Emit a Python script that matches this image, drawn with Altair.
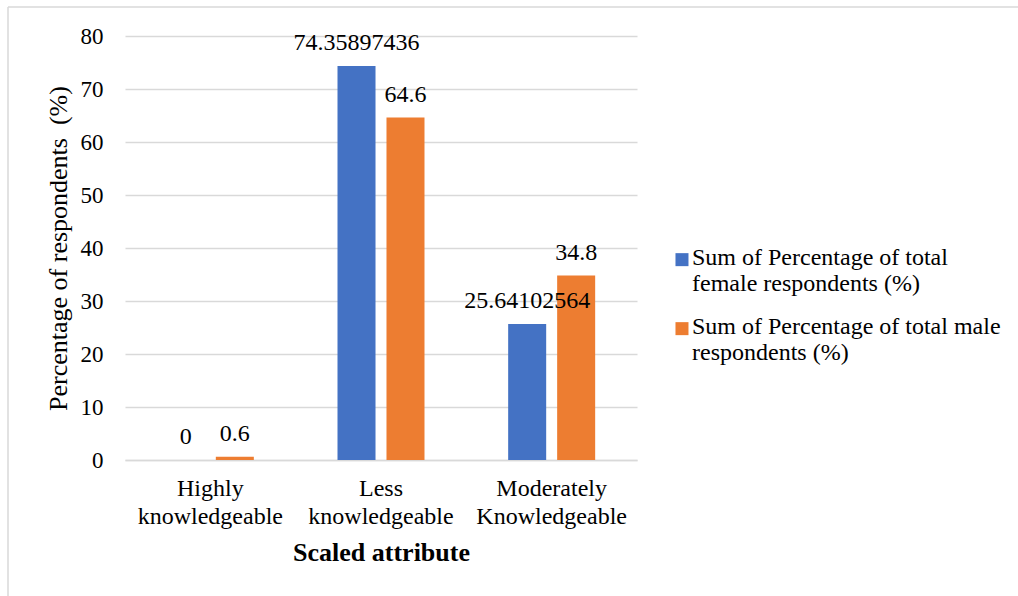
import json

import altair as alt
import pandas as pd

# Knowledge level of respondents, split by gender
categories = ["Highly knowledgeable", "Less knowledgeable", "Moderately Knowledgeable"]
female_pct = [0, 74.35897436, 25.64102564]
male_pct = [0.6, 64.6, 34.8]

series_names = [
    "Sum of Percentage of total female respondents (%)",
    "Sum of Percentage of total male respondents (%)",
]
legend_lines = [
    ["Sum of Percentage of total", "female respondents (%)"],
    ["Sum of Percentage of total male", "respondents (%)"],
]
series_colors = ["#4472C4", "#ED7D31"]
y_ticks = [0, 10, 20, 30, 40, 50, 60, 70, 80]

FONT = "Liberation Serif"
GRID = "#d9d9d9"

rows = []
for name, values in zip(series_names, [female_pct, male_pct]):
    for cat, val in zip(categories, values):
        rows.append({"category": cat, "series": name, "value": val, "label": "%.10g" % val})
df = pd.DataFrame(rows)

# legend labels wrap onto two lines
legend_expr = " : ".join(
    f"datum.label == {json.dumps(name)} ? {json.dumps(lines)}"
    for name, lines in zip(series_names, legend_lines)
) + " : datum.label"

x_enc = alt.X(
    "category:N",
    sort=categories,
    scale=alt.Scale(paddingInner=0, paddingOuter=0),
    axis=alt.Axis(
        title="Scaled attribute",
        labelAngle=0,
        labelExpr="split(datum.label, ' ')",
        labelFont=FONT,
        labelFontSize=24,
        labelLineHeight=28,
        labelPadding=16,
        labelColor="black",
        ticks=False,
        tickSize=0,
        domain=True,
        domainColor=GRID,
        domainWidth=1.5,
        titleFont=FONT,
        titleFontSize=26,
        titleFontWeight="bold",
        titleColor="black",
        titleBaseline="alphabetic",
        titleY=100,
    ),
)
xoff_enc = alt.XOffset(
    "series:N",
    sort=series_names,
    scale=alt.Scale(paddingInner=0.224, paddingOuter=0.854),
)
y_enc = alt.Y(
    "value:Q",
    scale=alt.Scale(domain=[0, 80], nice=False),
    axis=alt.Axis(
        values=y_ticks,
        title="Percentage of respondents\u00a0 (%)",
        grid=True,
        gridColor=GRID,
        gridWidth=1.5,
        domain=False,
        ticks=False,
        tickSize=0,
        labelFont=FONT,
        labelFontSize=23,
        labelPadding=22,
        labelColor="black",
        titleFont=FONT,
        titleFontSize=26,
        titleFontWeight="normal",
        titleColor="black",
        titlePadding=9,
    ),
)

base = alt.Chart(df)

bars = base.mark_bar().encode(
    x=x_enc,
    xOffset=xoff_enc,
    y=y_enc,
    color=alt.Color(
        "series:N",
        scale=alt.Scale(domain=series_names, range=series_colors),
        legend=alt.Legend(
            title=None,
            orient="none",
            legendX=539,
            legendY=198,
            padding=0,
            symbolType="M-0.08,1.1H1.92V3.1H-0.08Z",
            symbolSize=169,
            symbolStrokeWidth=0,
            symbolOpacity=1,
            labelExpr=legend_expr,
            labelFont=FONT,
            labelFontSize=24,
            labelColor="black",
            labelBaseline="top",
            labelLimit=500,
            labelOffset=4,
            rowPadding=7,
        ),
    ),
)

labels = base.mark_text(
    baseline="alphabetic", dy=-16, font=FONT, fontSize=24, color="black"
).encode(
    x=alt.X("category:N", sort=categories),
    xOffset=alt.XOffset("series:N", sort=series_names),
    y=alt.Y("value:Q"),
    text="label:N",
)

# thin outer frame of the chart area
frame_src = alt.Chart(pd.DataFrame({"edge": ["top"]}))
frame_top = frame_src.mark_rule(color=GRID, strokeWidth=1.5).encode(
    x=alt.value(-117), x2=alt.value(893), y=alt.value(-29)
)
frame_left = frame_src.mark_rule(color=GRID, strokeWidth=1.5).encode(
    x=alt.value(-117), y=alt.value(-29), y2=alt.value(560)
)

chart = (
    alt.layer(frame_top, frame_left, bars, labels)
    .properties(
        width=512,
        height=424,
        autosize=alt.AutoSizeParams(type="none"),
        padding={"left": 125, "top": 36, "right": 381, "bottom": 136},
        background="white",
    )
    .configure_view(stroke=None)
)

chart.save("out.html", embed_options={"renderer": "svg", "actions": False})
